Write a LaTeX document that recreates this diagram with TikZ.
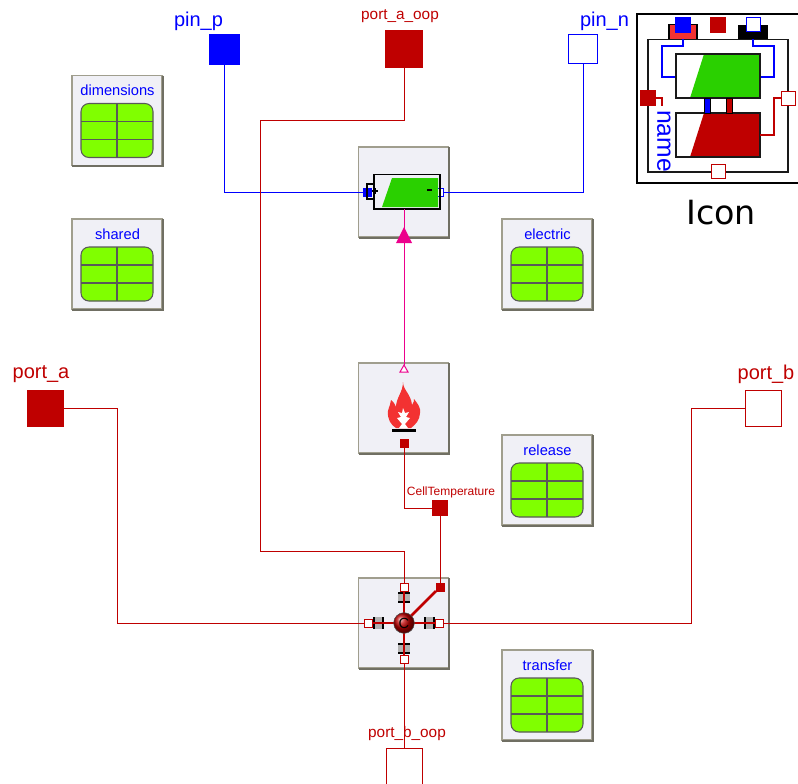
\documentclass[tikz,border=0pt]{standalone}
\usepackage{fontspec}
\setmainfont{Liberation Sans}
\newfontfamily\iconfont{DejaVu Sans}
\definecolor{mred}{RGB}{191,0,0}
\definecolor{mgreen}{RGB}{128,255,0}
\definecolor{cellgreen}{RGB}{42,208,0}
\definecolor{boxfill}{RGB}{240,240,246}
\definecolor{boxline}{RGB}{160,158,142}
\definecolor{flame}{RGB}{243,50,50}
\newcommand{\fs}[1]{\fontsize{#1}{#1}\selectfont}
\tikzset{
  x=.75pt,y=-.75pt,
  wire/.style={line width=.75pt},
  bluewire/.style={wire,draw=blue},
  redwire/.style={wire,draw=mred},
  magwire/.style={wire,draw=magenta},
  sq/.style={draw,rectangle,inner sep=0pt,outer sep=0pt,line width=.75pt,minimum size=#1*.75pt},
  filledred/.style={sq=#1,draw=mred,fill=mred},
  openred/.style={sq=#1,draw=mred,fill=white},
  filledblue/.style={sq=#1,draw=blue,fill=blue},
  openblue/.style={sq=#1,draw=blue,fill=white},
  blockbox/.style={draw=boxline,fill=boxfill,line width=1.1pt,rectangle,inner sep=0pt,outer sep=0pt,minimum size=67.5pt},
  bluelab/.style={text=blue,inner sep=0pt},
  redlab/.style={text=mred,inner sep=0pt},
  recordlab/.style={bluelab,font=\fs{11}},
  capbody/.style={fill=black!30,draw=none},
  capplate/.style={draw=black,line width=.9pt},
  iconline/.style={draw=black!90,line width=1.1pt},
}
\newcommand{\blockshadow}[1]{%
  \draw[boxline!70!black,line width=1.5pt] ([xshift=.4pt]#1.north east) -- ([xshift=.4pt,yshift=-.4pt]#1.south east) -- ([yshift=-.4pt]#1.south west);}
\newcommand{\recblock}[5]{% name, cx, cy, label
  \node[blockbox] (#1) at (#2,#3) {};
  \blockshadow{#1}
  \node[recordlab] (#1lab) at (#2+.5,#3-30) {#4};
  \fill[mgreen,rounded corners=6pt] (#2-36,#3-17) rectangle (#2+36,#3+37);
  \draw[draw=black!65,line width=.8pt,rounded corners=6pt] (#2-36,#3-17) rectangle (#2+36,#3+37);
  \draw[draw=black!65,line width=.8pt] (#2-36,#3+1) -- (#2+36,#3+1) (#2-36,#3+19) -- (#2+36,#3+19) (#2,#3-17) -- (#2,#3+37);
}
\begin{document}
\begin{tikzpicture}
\useasboundingbox (0,0) rectangle (798,783);
\clip (0,0) rectangle (798,783);
% record blocks
\recblock{dimensions}{117}{120.5}{dimensions}{}
\recblock{shared}{117}{264}{shared}{}
\recblock{electric}{547}{264}{electric}{}
\recblock{release}{547}{480}{release}{}
\recblock{transfer}{547}{695}{transfer}{}
% main blocks
\node[blockbox] (battery) at (403.5,192) {};
\blockshadow{battery}
\node[blockbox] (fire) at (403.5,408) {};
\blockshadow{fire}
\node[blockbox] (thermal) at (403.5,623) {};
\blockshadow{thermal}
% outer ports
\node[filledblue=30] (pinp) at (224,49) {};
\node[filledred=37] (portaoop) at (404,49) {};
\node[openblue=29] (pinn) at (583,49) {};
\node[filledred=36] (porta) at (45,408) {};
\node[openred=36] (portb) at (763,408) {};
\node[openred=36] (portboop) at (404,766) {};
\node[filledred=15] (celltemp) at (440,508) {};
% inner ports
\node[filledblue=8] (batp) at (367.5,192) {};
\node[openblue=8] (batn) at (439.5,192) {};
\node[filledred=8] (fireport) at (404,443) {};
\node[openred=8] (thtop) at (404,587) {};
\node[openred=8] (thbot) at (404,659) {};
\node[openred=8] (thleft) at (368,623) {};
\node[openred=8] (thright) at (439.5,623) {};
\node[filledred=8] (thcorner) at (440,587) {};
% named bends
\coordinate (oopa) at (404,120);
\coordinate (oopb) at (260,120);
\coordinate (oopc) at (260,551);
\coordinate (oopd) at (404,551);
% battery icon
\fill[cellgreen] (392,178) -- (438,178) -- (438,207) -- (382,207) -- cycle;
\draw[black,line width=1pt] (374,174.5) rectangle (440,209);
\draw[black,line width=1pt] (374,184) -- (367,184) -- (367,199) -- (374,199);
\draw[black,line width=1pt] (372,191) -- (378,191) (375,188) -- (375,194) (427,190) -- (432,190);
% flame icon
\fill[flame] (403,382) .. controls (403,390) and (411,394) .. (412,405)
  .. controls (414,403) and (414,400) .. (414,399)
  .. controls (418,404) and (421,408) .. (420,413)
  .. controls (420,420) and (415,425) .. (411,428)
  -- (396,428) .. controls (391,425) and (387,419) .. (388,411)
  .. controls (389,406) and (391,404) .. (391,400)
  .. controls (394,402) and (395,405) .. (396,407)
  .. controls (396,398) and (403,392) .. (403,382) -- cycle;
\fill[white] (403,408) -- (405,413) -- (409,412) -- (406,417) -- (410,418) -- (405,424) -- (408,428) -- (399,428) -- (402,424) -- (397,418) -- (401,417) -- (398,412) -- (402,413) -- cycle;
\fill[black] (392,429) rectangle (416,432);
% thermal icon
\fill[capbody] (398,593) rectangle (410,602);
\fill[capbody] (398,644) rectangle (410,653);
\fill[capbody] (374,617) rectangle (383,629);
\fill[capbody] (425,617) rectangle (434,629);
\draw[capplate] (398,593) -- (410,593) (398,602) -- (410,602) (398,644) -- (410,644) (398,653) -- (410,653)
  (374,617) -- (374,629) (383,617) -- (383,629) (425,617) -- (425,629) (434,617) -- (434,629);
\draw[mred,line width=1pt] (thtop) -- (thbot) (thleft) -- (thright);
\draw[mred,line width=2pt] (404,623) -- (thcorner);
\node[openred=8] at (thtop) {};
\node[openred=8] at (thbot) {};
\node[openred=8] at (thleft) {};
\node[openred=8] at (thright) {};
\node[filledred=8] at (thcorner) {};
\node[circle,draw=black!70,ball color=mred,minimum size=15.5pt,inner sep=0pt,font=\fs{11}] (ball) at (404,623) {C};
% connectors
\draw[bluewire] (pinp) |- (batp);
\draw[bluewire] (pinn) |- (batn);
\draw[redwire] (portaoop) -- (oopa) -- (oopb) -- (oopc) -- (oopd) -- (thtop);
\draw[redwire] (porta) -| (117,623) -- (thleft);
\draw[redwire] (portb) -| (691,623) -- (thright);
\draw[redwire] (thbot) -- (portboop);
\draw[redwire] (fireport) |- (celltemp);
\draw[redwire] (celltemp) -- (thcorner);
\node[draw=magenta,fill=white,line width=.75pt,isosceles triangle stub/.style={},inner sep=0pt] at (-100,-100) {};
\coordinate (fireinA) at (404,365);
\coordinate (batinA) at (404,209);
\draw[magwire] (batinA) -- (fireinA);
\fill[magenta] (404,227) -- (412,243) -- (396,243) -- cycle;
\draw[magenta,fill=white,line width=.75pt] (404,365) -- (408,372) -- (400,372) -- cycle;
% labels
\node[bluelab,font=\fs{15}] (pinplab) at (198.5,21) {pin\_p};
\node[redlab,font=\fs{11.5}] (oopalab) at (400,16) {port\_a\_oop};
\node[bluelab,font=\fs{15}] (pinnlab) at (604.5,21) {pin\_n};
\node[redlab,font=\fs{15}] (portalab) at (41,374.5) {port\_a};
\node[redlab,font=\fs{15}] (portblab) at (766,374.5) {port\_b};
\node[redlab,font=\fs{11.5}] (oopblab) at (407,734) {port\_b\_oop};
\node[redlab,font=\fs{9}] (celllab) at (451,492) {CellTemperature};
% icon view
\draw[black,line width=1.1pt] (637,14) rectangle (810,183);
\draw[iconline] (648,39.5) rectangle (788,172);
\fill[flame] (669,24.5) rectangle (697,39);
\draw[black,line width=1pt] (669,39) -- (669,24.5) -- (697,24.5) -- (697,39);
\fill[black] (738,24.5) rectangle (768,39);
\draw[blue,line width=.8pt] (683,39) -- (683,46) -- (662,46) -- (662,77) -- (676,77);
\draw[blue,line width=.8pt] (753,39) -- (753,46) -- (774,46) -- (774,77) -- (760,77);
\fill[white] (676,54) rectangle (760,98);
\fill[cellgreen] (704,54) -- (760,54) -- (760,98) -- (690,98) -- cycle;
\draw[iconline] (676,54) rectangle (760,98);
\fill[white] (676,113) rectangle (760,157);
\fill[mred] (704,113) -- (760,113) -- (760,157) -- (690,157) -- cycle;
\draw[iconline] (676,113) rectangle (760,157);
\fill[blue] (704.5,98) rectangle (710,113);
\draw[black,line width=.6pt] (704.5,98) rectangle (710,113);
\fill[mred] (726.5,98) rectangle (732,113);
\draw[black,line width=.6pt] (726.5,98) rectangle (732,113);
\draw[mred,line width=.8pt] (781,98) -- (774,98) -- (774,135) -- (760,135);
\draw[mred,line width=.8pt] (656,98) -- (662,98) -- (662,106);
\node[filledblue=15] (iconp) at (683,24.5) {};
\node[filledred=15] (iconoop) at (718,24.5) {};
\node[openblue=14] (iconn) at (753,24.5) {};
\node[filledred=15] (icona) at (648,98) {};
\node[openred=14] (iconb) at (788.5,98) {};
\node[openred=14] (iconbot) at (718,171.5) {};
\node[bluelab,font=\fs{18.5},rotate=-90] (iconname) at (664,141) {name};
\node[inner sep=0pt,text=black,font=\iconfont\fs{25}] (iconlab) at (721,213) {Icon};
\end{tikzpicture}
\end{document}
